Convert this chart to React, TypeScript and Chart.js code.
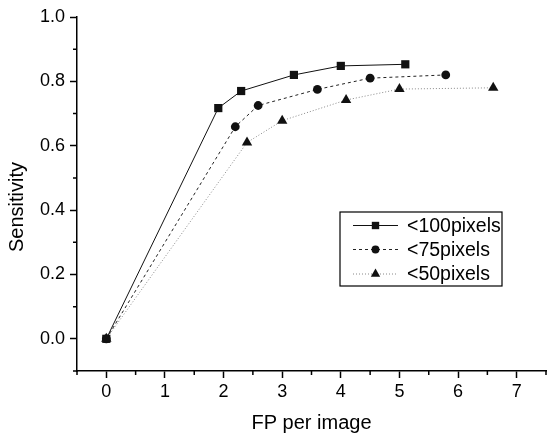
import React, { useEffect, useRef } from "react";
import { Chart, registerables } from "chart.js";

Chart.register(...registerables);

const seriesNames = ["<100pixels", "<75pixels", "<50pixels"];
const fp100 = [0, 1.91, 2.3, 3.2, 4.0, 5.1];
const sens100 = [0, 0.717, 0.77, 0.82, 0.848, 0.853];
const fp75 = [0, 2.2, 2.59, 3.6, 4.5, 5.79];
const sens75 = [0, 0.659, 0.725, 0.775, 0.81, 0.82];
const fp50 = [0, 2.4, 3.0, 4.09, 5.0, 6.6];
const sens50 = [0, 0.61, 0.678, 0.742, 0.776, 0.78];

const xTicks = [0, 1, 2, 3, 4, 5, 6, 7];
const xMinorTicks = [-0.5, 0.5, 1.5, 2.5, 3.5, 4.5, 5.5, 6.5, 7.5];
const yTicks = [0, 0.2, 0.4, 0.6, 0.8, 1.0];
const yMinorTicks = [-0.1, 0.1, 0.3, 0.5, 0.7, 0.9];
const xTitle = "FP per image";
const yTitle = "Sensitivity";

const FONT = "'Liberation Sans', Arial, Helvetica, sans-serif";

const toPts = (xs: number[], ys: number[]) => xs.map((x, i) => ({ x, y: ys[i] }));

function drawMarker(ctx: CanvasRenderingContext2D, style: string, r: number, x: number, y: number) {
  ctx.beginPath();
  if (style === "rect") {
    const s = Math.SQRT1_2 * r;
    ctx.rect(x - s, y - s, 2 * s, 2 * s);
  } else if (style === "circle") {
    ctx.arc(x, y, r, 0, Math.PI * 2);
  } else {
    ctx.moveTo(x, y - r);
    ctx.lineTo(x + r * 0.866, y + r * 0.5);
    ctx.lineTo(x - r * 0.866, y + r * 0.5);
    ctx.closePath();
  }
  ctx.fill();
}

const extrasPlugin = {
  id: "extras",
  afterDraw(chart: any) {
    const ctx = chart.ctx;
    const xs = chart.scales.x;
    const ys = chart.scales.y;
    const area = chart.chartArea;
    ctx.save();
    // minor ticks
    ctx.strokeStyle = "#000";
    ctx.lineWidth = 1.5;
    ctx.beginPath();
    xMinorTicks.forEach((v) => {
      const px = xs.getPixelForValue(v);
      ctx.moveTo(px, area.bottom);
      ctx.lineTo(px, area.bottom + 4);
    });
    yMinorTicks.forEach((v) => {
      const py = ys.getPixelForValue(v);
      ctx.moveTo(area.left, py);
      ctx.lineTo(area.left - 4, py);
    });
    ctx.stroke();

    // axis titles
    ctx.fillStyle = "#000";
    ctx.font = `20px ${FONT}`;
    ctx.textAlign = "center";
    ctx.textBaseline = "middle";
    ctx.fillText(xTitle, (area.left + area.right) / 2, 423);
    ctx.save();
    ctx.translate(17, 207);
    ctx.rotate(-Math.PI / 2);
    ctx.fillText(yTitle, 0, 0);
    ctx.restore();

    // legend
    const bx = 340, by = 212, bw = 162, bh = 74;
    ctx.lineWidth = 1.2;
    ctx.strokeStyle = "#000";
    ctx.strokeRect(bx, by, bw, bh);
    const rows = [225.5, 249.5, 274];
    chart.data.datasets.forEach((ds: any, i: number) => {
      const y = rows[i];
      ctx.save();
      ctx.strokeStyle = ds.borderColor;
      ctx.lineWidth = ds.borderWidth;
      ctx.setLineDash(ds.borderDash || []);
      ctx.beginPath();
      ctx.moveTo(353, y);
      ctx.lineTo(398, y);
      ctx.stroke();
      ctx.restore();
      ctx.save();
      ctx.fillStyle = "#111";
      drawMarker(ctx, ds.pointStyle, ds.pointRadius * 0.9, 375.5, y);
      ctx.restore();
      ctx.fillStyle = "#000";
      ctx.font = `19.5px ${FONT}`;
      ctx.textAlign = "left";
      ctx.textBaseline = "middle";
      ctx.fillText(ds.label, 407, y + 1);
    });
    ctx.restore();
  },
};

export default function App() {
  const ref = useRef<HTMLCanvasElement | null>(null);
  useEffect(() => {
    if (!ref.current) return;
    const chart = new Chart(ref.current, {
      type: "scatter",
      data: {
        datasets: [
          {
            label: seriesNames[0],
            data: toPts(fp100, sens100),
            showLine: true,
            borderColor: "#111",
            backgroundColor: "#111",
            borderWidth: 1,
            pointStyle: "rect",
            pointRadius: 5.8,
            pointBorderWidth: 0,
          },
          {
            label: seriesNames[1],
            data: toPts(fp75, sens75),
            showLine: true,
            borderColor: "#222",
            backgroundColor: "#111",
            borderWidth: 1,
            borderDash: [3, 3],
            pointStyle: "circle",
            pointRadius: 4.4,
            pointBorderWidth: 0,
          },
          {
            label: seriesNames[2],
            data: toPts(fp50, sens50),
            showLine: true,
            borderColor: "#888",
            backgroundColor: "#111",
            borderWidth: 1,
            borderDash: [1, 2],
            pointStyle: "triangle",
            pointRadius: 6,
            pointBorderWidth: 0,
          },
        ],
      } as any,
      options: {
        animation: false,
        responsive: false,
        maintainAspectRatio: false,
        layout: { padding: { top: 17, right: 0, left: 0, bottom: 0 } },
        plugins: { legend: { display: false }, tooltip: { enabled: false } },
        scales: {
          x: {
            type: "linear",
            min: -0.5,
            max: 7.5,
            afterBuildTicks: (scale: any) => {
              scale.ticks = xTicks.map((v) => ({ value: v }));
            },
            afterFit: (scale: any) => {
              scale.height = 66;
            },
            border: { display: true, color: "#000", width: 1.5 },
            grid: {
              display: true,
              drawOnChartArea: false,
              drawTicks: true,
              tickLength: 7,
              tickWidth: 1.5,
              tickColor: "#000",
            },
            ticks: {
              color: "#000",
              font: { family: FONT, size: 18 },
              padding: 3,
              maxRotation: 0,
              callback: (v: any) => String(v),
            },
          },
          y: {
            type: "linear",
            min: -0.1,
            max: 1.0,
            afterBuildTicks: (scale: any) => {
              scale.ticks = yTicks.map((v) => ({ value: v }));
            },
            afterFit: (scale: any) => {
              scale.width = 77;
            },
            border: { display: true, color: "#000", width: 1.5 },
            grid: {
              display: true,
              drawOnChartArea: false,
              drawTicks: true,
              tickLength: 7,
              tickWidth: 1.5,
              tickColor: "#000",
            },
            ticks: {
              color: "#000",
              font: { family: FONT, size: 18 },
              padding: 5,
              callback: (v: any) => Number(v).toFixed(1),
            },
          },
        },
      } as any,
      plugins: [extrasPlugin],
    });
    return () => chart.destroy();
  }, []);
  return (
    <div style={{ position: "absolute", left: 0, top: 0, width: 552, height: 437, background: "#fff" }}>
      <canvas ref={ref} width={552} height={437} style={{ width: 552, height: 437 }} />
    </div>
  );
}
